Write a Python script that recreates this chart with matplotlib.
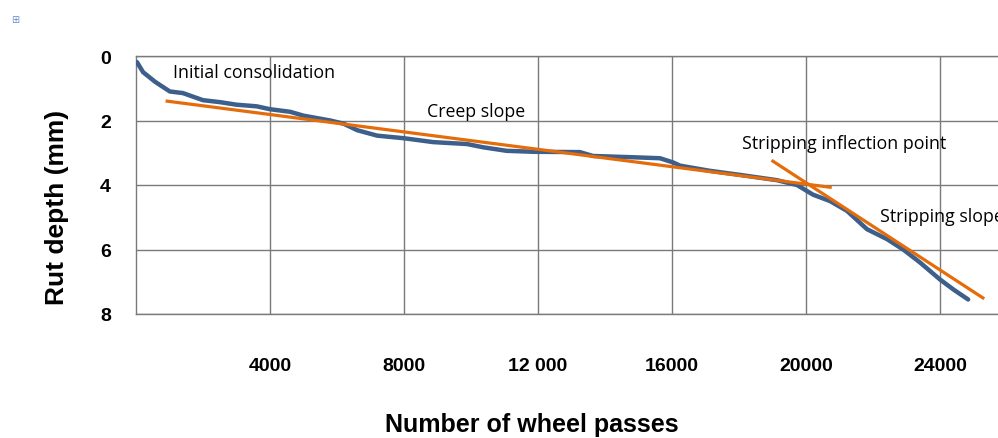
import matplotlib
matplotlib.use("Agg")
import numpy as np
from matplotlib import pyplot as plt

# rut depth curve
passes = [30, 210, 570, 1010, 1400, 2000, 2500, 3000, 3600, 4000, 4600, 5000,
          5800, 6200, 6600, 7200, 8000, 8870, 9880, 10360, 11060, 11860, 13250,
          13640, 14840, 15640, 16030, 16240, 17130, 18120, 19130, 19730, 20210,
          20720, 21220, 21820, 22420, 22900, 23400, 24000, 24400, 24840]
rut = [0.19, 0.5, 0.8, 1.1, 1.15, 1.37, 1.43, 1.51, 1.56, 1.65, 1.73, 1.85,
       2.0, 2.1, 2.3, 2.47, 2.55, 2.67, 2.73, 2.83, 2.94, 2.97, 2.98,
       3.1, 3.14, 3.17, 3.3, 3.4, 3.56, 3.7, 3.85, 4.0, 4.3,
       4.5, 4.8, 5.37, 5.68, 6.0, 6.4, 6.93, 7.24, 7.55]

# fitted lines (end points)
creep_x = [930, 20720]
creep_y = [1.4, 4.07]
strip_x = [19010, 25280]
strip_y = [3.26, 7.5]

xticks = [4000, 8000, 12000, 16000, 20000, 24000]
xticklabels = ["4000", "8000", "12 000", "16000", "20000", "24000"]
yticks = [0, 2, 4, 6, 8]

fig = plt.figure(figsize=(9.98, 4.39), dpi=100)
ax = fig.add_axes([136/998, 1-315/439, 1-136/998, (315-57)/439])

ax.plot(passes, rut, color="#3d5f8c", lw=3.2, solid_capstyle="round", zorder=3)
ax.plot(creep_x, creep_y, color="#e46c0a", lw=2.3, zorder=4)
ax.plot(strip_x, strip_y, color="#e46c0a", lw=2.3, zorder=4)

ax.set_xlim(0, 25731)
ax.set_ylim(8, 0)
ax.set_xticks(xticks)
ax.set_xticklabels(xticklabels)
ax.set_yticks(yticks)
ax.grid(True, color="#7a7a7a", lw=1.0)
ax.tick_params(length=0)
ax.tick_params(axis="x", pad=31)
ax.tick_params(axis="y", pad=18)
for lab in ax.get_xticklabels() + ax.get_yticklabels():
    lab.set_fontfamily("Liberation Sans")
    lab.set_fontweight("bold")
    lab.set_fontsize(14)
for s in ["left", "bottom", "top"]:
    ax.spines[s].set_color("#7a7a7a")
    ax.spines[s].set_linewidth(1.0)
ax.spines["right"].set_visible(False)

ax.set_xlabel("Number of wheel passes", fontfamily="Liberation Sans",
              fontweight="bold", fontsize=18, va="center")
ax.xaxis.set_label_coords((532-136)/862, (315-425)/258)
ax.set_ylabel("Rut depth (mm)", fontfamily="Liberation Sans",
              fontweight="bold", fontsize=19, va="center")
ax.yaxis.set_label_coords((57-136)/862, (315-207)/258)

tfont = dict(fontfamily="Open Sans", fontsize=12.8, color="black", zorder=5)
ax.text(1100, 0.5, "Initial consolidation", va="center", **tfont)
ax.text(8700, 1.72, "Creep slope", va="center", **tfont)
ax.text(18100, 2.7, "Stripping inflection point", va="center", **tfont)
ax.text(22200, 4.95, "Stripping slope", va="center", **tfont)

fig.text(15/998, 1-20/439, "\u229e", fontsize=7, color="#6a8fd0",
         ha="center", va="center")

fig.savefig("out.png", dpi=100)
